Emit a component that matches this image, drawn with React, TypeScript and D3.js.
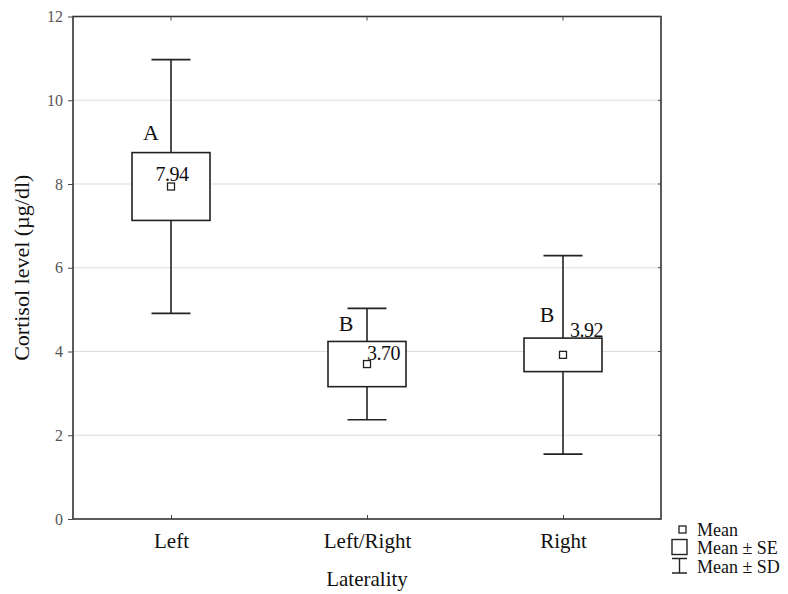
import React, { useEffect, useRef } from "react";
import * as d3 from "d3";

// datos
const categorias = ["Left", "Left/Right", "Right"];
const medias = [7.94, 3.7, 3.92];
const errorEstandar = [0.81, 0.54, 0.4];
const desviacion = [3.03, 1.33, 2.37];
const letras = ["A", "B", "B"];
const ticksY = [0, 2, 4, 6, 8, 10, 12];
const leyenda = ["Mean", "Mean \u00b1 SE", "Mean \u00b1 SD"];

// donde van las letras y los numeros respecto al bigote (px)
const posLetra = [
  [-20, -13],
  [-21, -10],
  [-16, -16],
];
const posValor = [
  [1, -6],
  [0, -4],
  [7, -18],
];

const FUENTE = "'Liberation Serif', 'Times New Roman', serif";

export default function App() {
  const refToSvg = useRef(null);

  useEffect(() => {
    document.body.style.margin = "0";
    const width = 788;
    const height = 594;
    const margen = { left: 73, right: 661, top: 16.5, bottom: 519 };

    const svg = d3.select(refToSvg.current);
    svg.selectAll("*").remove();
    svg.attr("width", width).attr("height", height).style("display", "block");

    const x = d3
      .scalePoint()
      .domain(categorias)
      .range([margen.left, margen.right])
      .padding(0.5);
    const y = d3.scaleLinear().domain([0, 12]).range([margen.bottom, margen.top]);

    const anchoCaja = 78;
    const anchoTope = 39;

    // rejilla
    svg
      .append("g")
      .selectAll("line")
      .data(ticksY.filter((d) => d > 0 && d < 12))
      .join("line")
      .attr("x1", margen.left)
      .attr("x2", margen.right)
      .attr("y1", (d) => y(d))
      .attr("y2", (d) => y(d))
      .attr("stroke", "#dcdcdc")
      .attr("stroke-width", 1.2);

    // marco
    svg
      .append("rect")
      .attr("x", margen.left)
      .attr("y", margen.top)
      .attr("width", margen.right - margen.left)
      .attr("height", margen.bottom - margen.top)
      .attr("fill", "none")
      .attr("stroke", "#333")
      .attr("stroke-width", 1.6);

    // eje Y
    const gy = svg.append("g").attr("transform", `translate(${margen.left},0)`);
    gy.call(d3.axisLeft(y).tickValues(ticksY).tickSize(5).tickPadding(5))
      .call((g) => g.select(".domain").remove());
    gy.selectAll(".tick line").attr("stroke", "#444");
    gy.selectAll(".tick text")
      .attr("font-family", FUENTE)
      .attr("font-size", 16)
      .attr("fill", "#555");

    // ticks del lado derecho
    svg
      .append("g")
      .selectAll("line")
      .data(ticksY)
      .join("line")
      .attr("x1", margen.right - 3)
      .attr("x2", margen.right)
      .attr("y1", (d) => y(d))
      .attr("y2", (d) => y(d))
      .attr("stroke", "#444");

    // eje X
    const gx = svg.append("g").attr("transform", `translate(0,${margen.bottom})`);
    gx.call(d3.axisBottom(x).tickSize(-4).tickPadding(14))
      .call((g) => g.select(".domain").remove());
    gx.selectAll(".tick line").attr("stroke", "#444");
    gx.selectAll(".tick text")
      .attr("font-family", FUENTE)
      .attr("font-size", 21)
      .attr("fill", "#111");

    svg
      .append("g")
      .selectAll("line")
      .data(categorias)
      .join("line")
      .attr("x1", (d) => x(d))
      .attr("x2", (d) => x(d))
      .attr("y1", margen.top)
      .attr("y2", margen.top + 4)
      .attr("stroke", "#444");

    // titulos
    svg
      .append("text")
      .attr("x", (margen.left + margen.right) / 2)
      .attr("y", 586)
      .attr("text-anchor", "middle")
      .attr("font-family", FUENTE)
      .attr("font-size", 21)
      .attr("fill", "#111")
      .text("Laterality");

    svg
      .append("text")
      .attr("transform", `translate(29,${y(6)}) rotate(-90)`)
      .attr("text-anchor", "middle")
      .attr("font-family", FUENTE)
      .attr("font-size", 22)
      .attr("fill", "#111")
      .text("Cortisol level (\u00b5g/dl)");

    const datos = categorias.map((c, i) => ({
      c,
      m: medias[i],
      se: errorEstandar[i],
      sd: desviacion[i],
      letra: letras[i],
      i,
    }));

    const grupos = svg
      .append("g")
      .selectAll("g")
      .data(datos)
      .join("g")
      .attr("stroke", "#222")
      .attr("stroke-width", 1.6)
      .attr("fill", "none");

    // bigotes (media +- SD)
    grupos
      .append("line")
      .attr("x1", (d) => x(d.c))
      .attr("x2", (d) => x(d.c))
      .attr("y1", (d) => y(d.m + d.sd))
      .attr("y2", (d) => y(d.m - d.sd));
    grupos
      .append("line")
      .attr("x1", (d) => x(d.c) - anchoTope / 2)
      .attr("x2", (d) => x(d.c) + anchoTope / 2)
      .attr("y1", (d) => y(d.m + d.sd))
      .attr("y2", (d) => y(d.m + d.sd));
    grupos
      .append("line")
      .attr("x1", (d) => x(d.c) - anchoTope / 2)
      .attr("x2", (d) => x(d.c) + anchoTope / 2)
      .attr("y1", (d) => y(d.m - d.sd))
      .attr("y2", (d) => y(d.m - d.sd));

    // caja (media +- SE)
    grupos
      .append("rect")
      .attr("x", (d) => x(d.c) - anchoCaja / 2)
      .attr("y", (d) => y(d.m + d.se))
      .attr("width", anchoCaja)
      .attr("height", (d) => y(d.m - d.se) - y(d.m + d.se))
      .attr("fill", "#fff");

    // letras
    grupos
      .append("text")
      .attr("x", (d) => x(d.c) + posLetra[d.i][0])
      .attr("y", (d) => y(d.m + d.se) + posLetra[d.i][1])
      .attr("text-anchor", "middle")
      .attr("stroke", "none")
      .attr("fill", "#111")
      .attr("font-family", FUENTE)
      .attr("font-size", 22)
      .text((d) => d.letra);

    // valor de la media
    grupos
      .append("text")
      .attr("x", (d) => x(d.c) + posValor[d.i][0])
      .attr("y", (d) => y(d.m) + posValor[d.i][1])
      .attr("text-anchor", (d) => (d.i === 0 ? "middle" : "start"))
      .attr("stroke", "none")
      .attr("fill", "#111")
      .attr("font-family", FUENTE)
      .attr("font-size", 20)
      .attr("letter-spacing", -0.5)
      .text((d) => d3.format(".2f")(d.m));

    // marcador de la media
    grupos
      .append("rect")
      .attr("x", (d) => x(d.c) - 3.5)
      .attr("y", (d) => y(d.m) - 3.5)
      .attr("width", 7)
      .attr("height", 7)
      .attr("fill", "#fff")
      .attr("stroke-width", 1.3);

    // leyenda
    const gl = svg.append("g").attr("stroke", "#222").attr("fill", "none");
    gl.append("rect")
      .attr("x", 679)
      .attr("y", 526)
      .attr("width", 7)
      .attr("height", 7)
      .attr("stroke-width", 1.3);
    gl.append("rect")
      .attr("x", 672)
      .attr("y", 539.5)
      .attr("width", 15)
      .attr("height", 15)
      .attr("stroke-width", 1.4);
    gl.append("path")
      .attr("d", "M672,558.5H687M679.5,558.5V573M672,573H687")
      .attr("stroke-width", 1.4);

    svg
      .append("g")
      .selectAll("text")
      .data(leyenda)
      .join("text")
      .attr("x", 697)
      .attr("y", (d, i) => 535.5 + i * 18.5)
      .attr("font-family", FUENTE)
      .attr("font-size", 18)
      .attr("fill", "#111")
      .text((d) => d);
  }, []);

  return <svg ref={refToSvg} />;
}
